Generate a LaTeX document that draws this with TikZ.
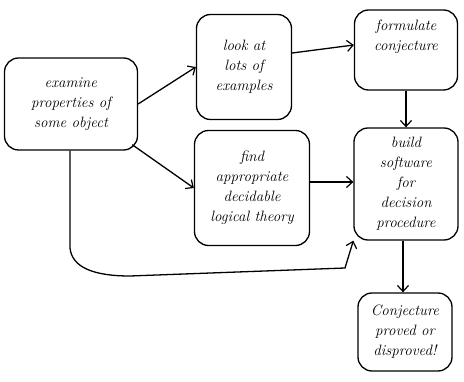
\documentclass[tikz,border=0pt]{standalone}
\usetikzlibrary{arrows.meta}
\begin{document}
\begin{tikzpicture}[x=1pt,y=-1pt,
  box/.style={draw,line width=1.3pt,rounded corners=14pt,align=center,font=\fontsize{15}{20}\selectfont\itshape,inner sep=2pt},
  conn/.style={line width=1.3pt,-{Straight Barb[length=6pt,width=11pt,line width=1.2pt]}},
  plain/.style={line width=1.3pt}]
\useasboundingbox (0,0) rectangle (464,382);
\node[box,minimum width=133pt,minimum height=92pt] (A) at (71,104) {examine\\properties of\\some object};
\node[box,minimum width=95pt,minimum height=105pt] (B) at (244,67) {look at\\lots of\\examples};
\node[box,minimum width=103pt,minimum height=80pt] (C) at (406,50) {formulate\\conjecture\\[10pt]};
\node[box,minimum width=115pt,minimum height=115pt] (D) at (252,188) {find\\appropriate\\decidable\\logical theory};
\node[box,minimum width=104pt,minimum height=112pt] (E) at (406,184) {build\\software\\for\\decision\\procedure};
\node[box,minimum width=94pt,minimum height=78pt] (F) at (405,332) {Conjecture\\proved or\\disproved!};
\draw[conn] (A.east) -- (B.west);
\draw[conn] (A.south east) ++(-6,-6) coordinate (a1) (a1) -- (D.west);
\draw[conn] (B.east) ++(0,-14) coordinate (b1) (b1) -- (C.west |- 0,45);
\draw[conn] (C.south) -- (E.north);
\draw[conn] (D.east) ++(0,-6) coordinate (d1) (d1) -- (E.west |- d1);
\draw[conn] (E.south) ++(-3,0) coordinate (e1) (e1) -- (F.north -| e1);
\coordinate (p1) at (70,248);
\coordinate (p2) at (345,268);
\draw[conn] (A.south -| p1) -- (p1) .. controls (72,268) and (95,276) .. (130,276) -- (p2) -- (E.south west);
\end{tikzpicture}
\end{document}
